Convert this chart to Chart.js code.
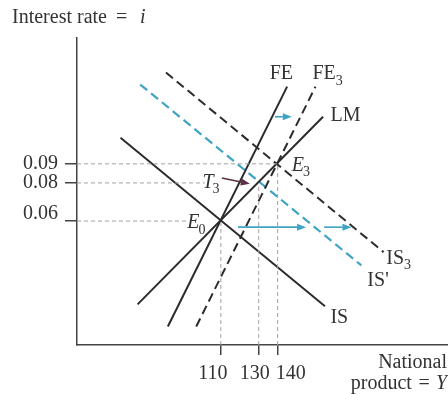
<!DOCTYPE html>
<html><head><meta charset="utf-8">
<script src="https://cdn.jsdelivr.net/npm/chart.js@4"></script>
<style>html,body{margin:0;padding:0;background:#fff}</style>
</head><body>
<canvas id="c" width="448" height="394"></canvas>
<script>
// Axis ticks
const xTicks = [110, 130, 140];          // national product Y
const yTicks = [0.06, 0.08, 0.09];       // interest rate i

// Curves: endpoints as [Y, i]
const IS      = [[57, 0.1037], [165, 0.0153]];
const ISprime = [[67.4, 0.1316], [184.2, 0.0368]];
const IS3     = [[81, 0.1379], [196, 0.0437]];
const FE      = [[82, 0.0047], [145, 0.1305]];
const FE3     = [[97, 0.0047], [160, 0.1305]];
const LM      = [[66, 0.0163], [164, 0.1147]];

// Equilibrium points and their guide lines
const E0 = [110, 0.06];
const T3 = [130, 0.08];
const E3 = [140, 0.09];
const guideEnds = [92, 101.5, 140];      // where horizontal guides stop (before labels)

// Shift arrows [fromY, fromI, toY, toI]
const shiftArrows = [
  [138.5, 0.1147, 147.5, 0.1147],
  [119, 0.0568, 155, 0.0568],
  [164.5, 0.0568, 179, 0.0568]
];
const t3Arrow = [110.5, 0.0826, 125.3, 0.0795];

// Curve labels: [text, subscript, italic, Y, i]
const curveLabels = [
  ['FE', '', false, 135.8, 0.1372],
  ['FE', '3', false, 158.4, 0.1372],
  ['LM', '', false, 167.9, 0.1153],
  ['E', '3', true, 147.5, 0.0892],
  ['T', '3', true, 100.3, 0.0802],
  ['E', '0', true, 92.3, 0.0590],
  ['IS', '3', false, 197.4, 0.0403],
  ["IS'", '', false, 187.4, 0.0287],
  ['IS', '', false, 167.9, 0.0092]
];

const SERIF = "'Liberation Serif', 'DejaVu Serif', serif";
const INK = '#2b2b2b';
const TEXT = '#333';
const CYAN = '#3fa3c3';
const GUIDE = '#a0a0a0';

const pts = a => a.map(p => ({x: p[0], y: p[1]}));
const line = (data, color, dash, width) => ({
  data: pts(data), showLine: true, pointRadius: 0, borderColor: color,
  borderWidth: width || 2, borderDash: dash || [], fill: false, tension: 0
});

// dashed guides from the axes to each equilibrium
const guides = [];
[E0, T3, E3].forEach((p, k) => {
  guides.push(line([[34, p[1]], [guideEnds[k], p[1]]], GUIDE, [4, 3], 1));
  guides.push(line([[p[0], -0.005], [p[0], p[1]]], GUIDE, [4, 3], 1));
});

function drawArrow(ctx, x0, y0, x1, y1, color, lw, hl, hw) {
  const a = Math.atan2(y1 - y0, x1 - x0);
  ctx.save();
  ctx.strokeStyle = color; ctx.fillStyle = color; ctx.lineWidth = lw;
  ctx.beginPath();
  ctx.moveTo(x0, y0);
  ctx.lineTo(x1 - hl * Math.cos(a), y1 - hl * Math.sin(a));
  ctx.stroke();
  ctx.beginPath();
  ctx.moveTo(x1, y1);
  ctx.lineTo(x1 - hl * Math.cos(a) + hw * Math.sin(a), y1 - hl * Math.sin(a) - hw * Math.cos(a));
  ctx.lineTo(x1 - hl * Math.cos(a) - hw * Math.sin(a), y1 - hl * Math.sin(a) + hw * Math.cos(a));
  ctx.closePath();
  ctx.fill();
  ctx.restore();
}

function drawLabel(ctx, x, y, text, sub, italic) {
  ctx.save();
  ctx.fillStyle = TEXT;
  ctx.textBaseline = 'middle';
  ctx.textAlign = 'left';
  ctx.font = (italic ? 'italic ' : '') + '20px ' + SERIF;
  const w = ctx.measureText(text).width;
  ctx.fillText(text, x, y);
  if (sub) {
    ctx.font = '14px ' + SERIF;
    ctx.fillText(sub, x + w + (italic ? -1 : 0), y + 7);
  }
  ctx.restore();
}

// x tick labels sit a little apart from each other, as typeset
const xLabelShift = {110: -8, 130: -4, 140: 13};

const annotate = {
  id: 'annotate',
  afterDatasetsDraw(chart) {
    const ctx = chart.ctx, xs = chart.scales.x, ys = chart.scales.y;
    shiftArrows.forEach(a => drawArrow(ctx, xs.getPixelForValue(a[0]), ys.getPixelForValue(a[1]),
      xs.getPixelForValue(a[2]), ys.getPixelForValue(a[3]), CYAN, 1.6, 9, 3.5));
    drawArrow(ctx, xs.getPixelForValue(t3Arrow[0]), ys.getPixelForValue(t3Arrow[1]),
      xs.getPixelForValue(t3Arrow[2]), ys.getPixelForValue(t3Arrow[3]), '#5a2f42', 1.4, 9, 3.5);
    curveLabels.forEach(l => drawLabel(ctx, xs.getPixelForValue(l[3]), ys.getPixelForValue(l[4]), l[0], l[1], l[2]));
  },
  afterDraw(chart) {
    const ctx = chart.ctx, xs = chart.scales.x;
    ctx.save();
    ctx.fillStyle = TEXT; ctx.textBaseline = 'middle';
    // x tick labels
    ctx.textAlign = 'center';
    ctx.font = '20px ' + SERIF;
    xTicks.forEach(v => ctx.fillText(String(v), xs.getPixelForValue(v) + xLabelShift[v], 374));
    // axis titles
    ctx.textAlign = 'left';
    ctx.fillText('Interest rate', 12, 18);
    ctx.fillText('=', 116, 18);
    ctx.font = 'italic 20px ' + SERIF;
    ctx.fillText('i', 140, 18);
    ctx.textAlign = 'right';
    ctx.font = '20px ' + SERIF;
    ctx.fillText('National', 447, 363);
    ctx.font = 'italic 20px ' + SERIF;
    ctx.fillText('Y', 447, 384);
    const yw = ctx.measureText('Y').width;
    ctx.font = '20px ' + SERIF;
    ctx.fillText('=', 447 - yw - 6, 384);
    ctx.fillText('product', 447 - yw - 24, 384);
    ctx.restore();
  }
};

const axisCommon = {
  type: 'linear',
  grid: {drawOnChartArea: false, drawTicks: true, color: '#444', lineWidth: 1.5},
  border: {display: true, color: '#444', width: 1.5}
};

new Chart(document.getElementById('c'), {
  type: 'scatter',
  data: {
    datasets: [
      ...guides,
      line(IS, INK), line(FE, INK), line(LM, INK),
      line(FE3, INK, [9, 5]), line(IS3, INK, [9, 5]),
      line(ISprime, CYAN, [9, 5], 2.2)
    ]
  },
  options: {
    responsive: false, animation: false, devicePixelRatio: 1,
    layout: {padding: {top: 38, left: 0, right: 0, bottom: 0}},
    plugins: {legend: {display: false}, tooltip: {enabled: false}},
    scales: {
      x: {...axisCommon, position: 'bottom', min: 34, max: 230,
        grid: {...axisCommon.grid, tickLength: 10},
        afterFit(s) { s.height = 49; },
        afterBuildTicks(s) { s.ticks = xTicks.map(v => ({value: v})); },
        ticks: {display: false, autoSkip: false}
      },
      y: {...axisCommon, position: 'left', min: -0.005, max: 0.156,
        grid: {...axisCommon.grid, tickLength: 12},
        afterFit(s) { s.width = 77; },
        afterBuildTicks(s) { s.ticks = yTicks.map(v => ({value: v})); },
        ticks: {autoSkip: false, padding: 7, color: TEXT,
          // the 0.06 label is set slightly above its tick
          font: ctx => ({family: SERIF, size: 20,
            lineHeight: ctx.tick && Math.abs(ctx.tick.value - 0.06) < 1e-9 ? '14px' : 1.2}),
          callback: v => Math.abs(v - 0.06) < 1e-9 ? ['0.06', ''] : v.toFixed(2)}
      }
    }
  },
  plugins: [annotate]
});
</script>
</body></html>
